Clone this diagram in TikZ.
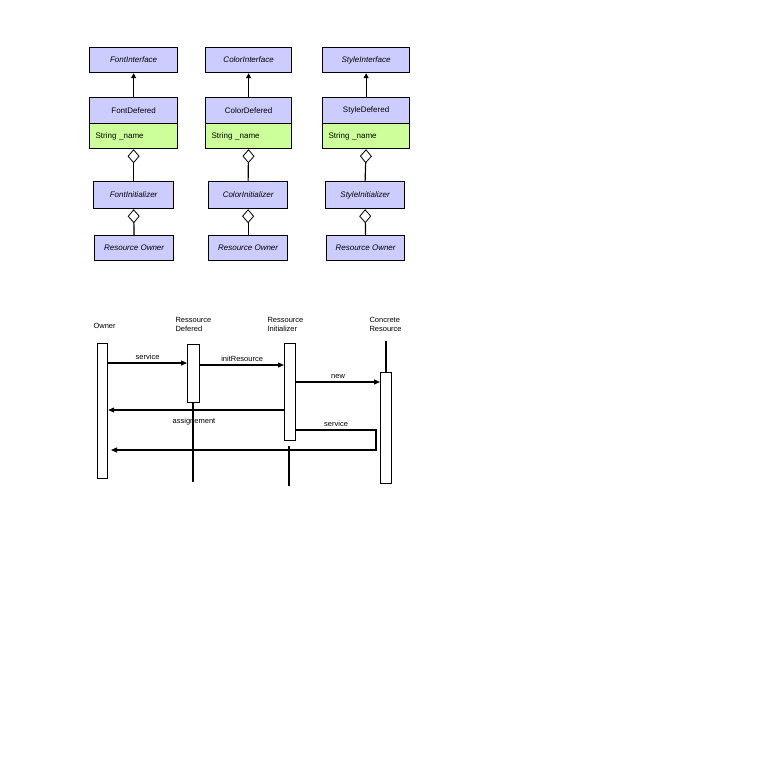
\documentclass[tikz,border=0pt]{standalone}
\usepackage{fontspec}
\setmainfont{Liberation Sans}
\usetikzlibrary{arrows.meta}
\definecolor{cls}{HTML}{CCCCFF}
\definecolor{attr}{HTML}{CCFF99}
\begin{document}
\begin{tikzpicture}[x=1pt,y=-1pt,
  box/.style={draw,line width=1.2pt,fill=cls,font=\fontsize{8}{9}\selectfont,inner sep=0pt},
  ibox/.style={box,font=\fontsize{8}{9}\selectfont\itshape},
  abox/.style={draw,line width=1.2pt,fill=attr,font=\fontsize{8}{9}\selectfont,inner sep=0pt},
  bar/.style={draw,line width=1.2pt,fill=white},
  ln/.style={line width=1.2pt},
  inh/.style={ln,-{Triangle[length=5pt,width=5pt]}},
  agg/.style={ln,{Diamond[open,length=14pt,width=12pt,line width=0.8pt]}-},
  msg/.style={ln,-{Triangle[length=6pt,width=5pt]}},
  lbl/.style={font=\fontsize{7.5}{9}\selectfont},
  hd/.style={font=\fontsize{7.5}{9}\selectfont,align=left,anchor=north west}]
\useasboundingbox (0,0) rectangle (780,780);
% column template
\foreach \n/\a/\b/\c/\d/\lx in {Font/89/177/93/173/94, Color/205/291/208/287/208, Style/322/409/325/404/326}{
  \node[ibox,minimum width=\b-\a,minimum height=25,anchor=north west] (\n I) at (\a,47) {\n Interface};
  \node[box,minimum width=\b-\a,minimum height=26,anchor=north west] (\n D) at (\a,97) {\n Defered};
  \node[abox,minimum width=\b-\a,minimum height=25,anchor=north west,text width=\b-\a-12,align=left] (\n A) at (\a,123) {String \_name};
  \node[ibox,minimum width=\d-\c,minimum height=27,anchor=north west] (\n N) at (\c,181) {\n Initializer};
  \node[ibox,minimum width=\d-\lx,minimum height=25,anchor=north west] (\n O) at (\lx,235) {Resource Owner};
  \draw[inh] (\n D) -- (\n I);
  \draw[agg] (\n A.south) -- (\n N.north);
  \draw[agg] (\n N.south) -- (\n O.north);
}
% sequence
\node[hd] (hO) at (90,320) {Owner};
\node[hd] (hD) at (172,314) {Ressource\\Defered};
\node[hd] (hI) at (264,314) {Ressource\\Initializer};
\node[hd] (hC) at (366,314) {Concrete\\Resource};
\coordinate (dE) at (193,482);
\coordinate (iS) at (289,446); \coordinate (iE) at (289,486);
\coordinate (cS) at (386,341);
\draw[ln] (193,402) -- (dE);
\draw[ln] (iS) -- (iE);
\draw[ln] (cS) -- (386,372);
\node[bar,minimum width=10,minimum height=135,anchor=north west,inner sep=0] (bO) at (97,343) {};
\node[bar,minimum width=12,minimum height=58,anchor=north west,inner sep=0] (bD) at (187,344) {};
\node[bar,minimum width=11,minimum height=97,anchor=north west,inner sep=0] (bI) at (284,343) {};
\node[bar,minimum width=11,minimum height=111,anchor=north west,inner sep=0] (bC) at (380,372) {};
\draw[msg] (bO.east|-0,363) -- node[lbl,above]{service} (bD.west|-0,363);
\draw[msg] (bD.east|-0,365) -- node[lbl,above]{initResource} (bI.west|-0,365);
\draw[msg] (bI.east|-0,382) -- node[lbl,above]{new} (bC.west|-0,382);
\draw[msg] (bI.west|-0,410) -- (bO.east|-0,410);
\node[lbl] (asg) at (194,422) {assignement};
\draw[msg] (bI.east|-0,430) -- node[lbl,above]{service} (376,430) -- (376,450) -- (111,450);
\end{tikzpicture}
\end{document}
